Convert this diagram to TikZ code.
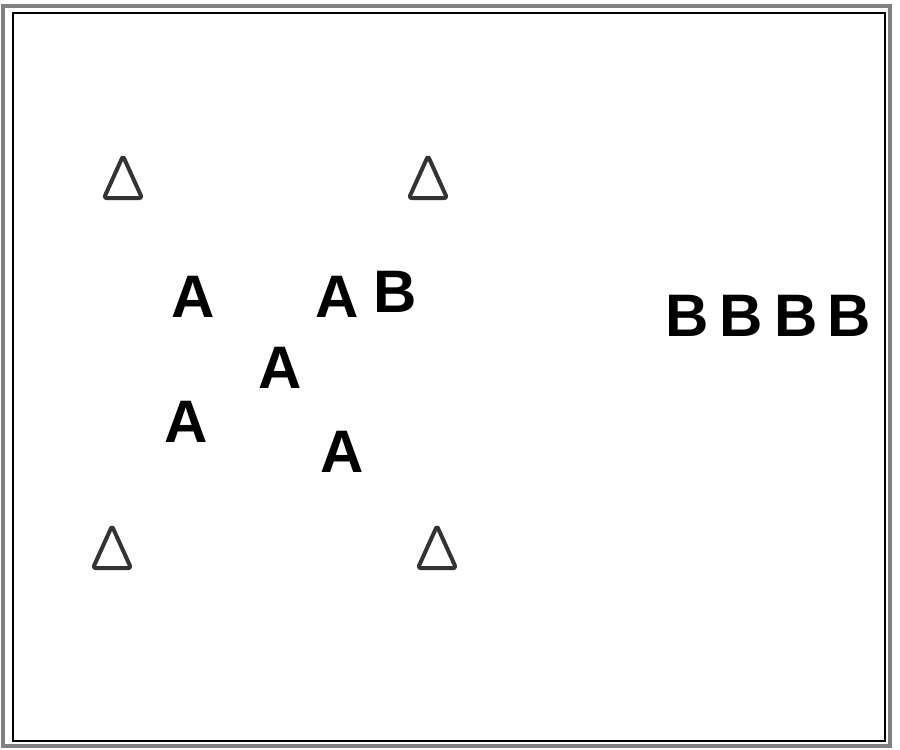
\documentclass[tikz,border=0pt]{standalone}
\usepackage{fontspec}
\setmainfont{Liberation Sans}
\usepackage{tikz}

\begin{document}
\begin{tikzpicture}[x=1pt, y=-1pt,
    letter/.style={font=\fontsize{60}{60}\selectfont\bfseries, inner sep=0pt},
    cone/.style={line width=4pt, draw=black!80, rounded corners=2.5pt, line join=round}]
    \useasboundingbox (0,0) rectangle (900,750);

    % Frame
    \draw[line width=4pt, black!50] (3,6) rectangle (890,746);
    \draw[line width=1.2pt] (13,13) rectangle (885,741);

    % Cones
    \foreach \x/\y in {123/178, 428/178, 112/548, 437/548}
    \draw[cone] (\x-19,\y+20) -- (\x,\y-22) -- (\x+19,\y+20) -- cycle;

    % Team A
    \foreach \x/\y [count=\i] in {193/297, 337/297, 280/368, 186/422, 342/452}
    \node[letter] (a\i) at (\x,\y) {A};

    % Team B
    \node[letter] (b0) at (395,292) {B};
    \foreach \x [count=\i] in {687, 741, 796, 849}
    \node[letter] (b\i) at (\x,316) {B};
\end{tikzpicture}
\end{document}
